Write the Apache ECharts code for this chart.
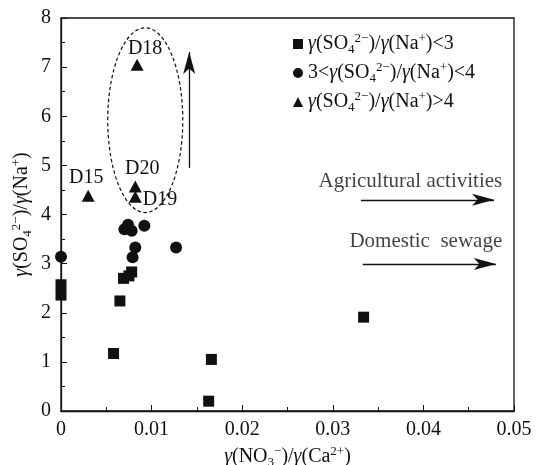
<!DOCTYPE html>
<html>
<head>
<meta charset="utf-8">
<script src="https://cdn.jsdelivr.net/npm/echarts@6/dist/echarts.min.js"></script>
<style>
  html, body { margin: 0; padding: 0; background: #fff; }
  #chart { width: 539px; height: 465px; }
</style>
</head>
<body>
<div id="chart"></div>
<script>
// Sampling points: [γ(NO3-)/γ(Ca2+), γ(SO4 2-)/γ(Na+)]
const lowRatio = [
  [0.0000, 2.57], [0.0000, 2.36], [0.0065, 2.24], [0.0069, 2.70],
  [0.0075, 2.75], [0.0078, 2.83], [0.0058, 1.17], [0.0166, 1.05],
  [0.0163, 0.20], [0.0334, 1.91]
];
const midRatio = [
  [0.0000, 3.14], [0.0070, 3.70], [0.0074, 3.79], [0.0078, 3.67],
  [0.0092, 3.77], [0.0082, 3.33], [0.0079, 3.13], [0.0127, 3.33]
];
const highRatio = [
  [0.0030, 4.38], [0.0082, 4.57], [0.0082, 4.36], [0.0084, 7.05]
];
const highNames = ['D15', 'D20', 'D19', 'D18'];

const seriesNames = ['low', 'mid', 'high'];
const xTicks = [0, 0.01, 0.02, 0.03, 0.04, 0.05];
const yTicks = [0, 1, 2, 3, 4, 5, 6, 7, 8];

// Annotations (data coordinates)
const groupEllipse = { center: [0.0093, 5.92], radius: [0.00414, 1.88] };
const upArrow = [[0.01415, 4.95], [0.01415, 7.31]];
const agriArrow = [[0.0331, 4.30], [0.0478, 4.30]];
const sewageArrow = [[0.0333, 2.99], [0.0480, 2.99]];
const agriText = { pos: [0.0487, 4.68], text: 'Agricultural activities' };
const sewageText = { pos: [0.0487, 3.45], text: 'Domestic  sewage' };

const FONT = 'Liberation Serif';
const INK = '#111';
const FS = 20;

const rich = {
  i: { fontStyle: 'italic', fontFamily: FONT, fontSize: FS, color: INK, lineHeight: 24 },
  n: { fontFamily: FONT, fontSize: FS, color: INK, lineHeight: 24 },
  sub: { fontFamily: FONT, fontSize: 13, color: INK, verticalAlign: 'bottom', lineHeight: 24 },
  sup: { fontFamily: FONT, fontSize: 13, color: INK, verticalAlign: 'top', lineHeight: 24 }
};
const so4 = '{i|γ}{n|(SO}{sub|4}{sup|2−}{n|)/}{i|γ}{n|(Na}{sup|+}{n|)}';
const legendText = {
  low: so4 + '{n|<3}',
  mid: '{n|3<}' + so4 + '{n|<4}',
  high: so4 + '{n|>4}'
};

const chart = echarts.init(document.getElementById('chart'), null, { renderer: 'canvas' });

function arrowLine(pts) {
  return {
    silent: true,
    symbol: ['none', 'arrow'],
    symbolSize: [9, 22],
    lineStyle: { color: INK, width: 1.3, type: 'solid' },
    label: { show: false },
    data: [[{ coord: pts[0] }, { coord: pts[1] }]]
  };
}

const labelPlace = {
  D15: { position: 'top', offset: [-2, 3] },
  D20: { position: 'top', offset: [7, 3] },
  D19: { position: 'right', offset: [-4, 3] },
  D18: { position: 'top', offset: [8, 5] }
};

const option = {
  animation: false,
  backgroundColor: '#fff',
  grid: {
    left: 61, right: 25, top: 18, bottom: 54,
    containLabel: false, outerBoundsMode: 'none',
    show: true, borderColor: INK, borderWidth: 1.3
  },
  legend: {
    orient: 'vertical',
    left: 288,
    top: 27,
    itemGap: 5,
    itemWidth: 10,
    itemHeight: 10,
    data: seriesNames,
    formatter: name => legendText[name],
    textStyle: { rich: rich, fontFamily: FONT, fontSize: FS, color: INK }
  },
  xAxis: {
    type: 'value',
    min: xTicks[0],
    max: xTicks[xTicks.length - 1],
    interval: 0.01,
    name: '{i|γ}{n|(NO}{sub|3}{sup|−}{n|)/}{i|γ}{n|(Ca}{sup|2+}{n|)}',
    nameLocation: 'middle',
    nameGap: 34,
    nameMoveOverlap: false,
    nameTextStyle: { rich: rich },
    axisLine: { show: true, lineStyle: { color: INK, width: 1.3 } },
    axisTick: { show: true, inside: true, length: 6, lineStyle: { color: INK } },
    minorTick: { show: true, splitNumber: 2, length: 4, lineStyle: { color: INK } },
    splitLine: { show: false },
    axisLabel: {
      fontFamily: FONT, fontSize: FS, color: INK, margin: 9,
      formatter: v => (v === 0 ? '0' : v.toFixed(2))
    }
  },
  yAxis: {
    type: 'value',
    min: yTicks[0],
    max: yTicks[yTicks.length - 1],
    interval: 1,
    name: so4,
    nameLocation: 'middle',
    nameRotate: 90,
    nameGap: 27,
    nameMoveOverlap: false,
    nameTextStyle: { rich: rich },
    axisLine: { show: true, lineStyle: { color: INK, width: 1.3 } },
    axisTick: { show: true, inside: true, length: 6, lineStyle: { color: INK } },
    minorTick: { show: true, splitNumber: 2, length: 4, lineStyle: { color: INK } },
    splitLine: { show: false },
    axisLabel: { fontFamily: FONT, fontSize: FS, color: INK, margin: 10 }
  },
  series: [
    {
      name: 'low', type: 'scatter', symbol: 'rect', symbolSize: 11,
      itemStyle: { color: INK, opacity: 1 }, data: lowRatio
    },
    {
      name: 'mid', type: 'scatter', symbol: 'circle', symbolSize: 12,
      itemStyle: { color: INK, opacity: 1 }, data: midRatio
    },
    {
      name: 'high', type: 'scatter', symbol: 'triangle', symbolSize: [13, 12],
      itemStyle: { color: INK, opacity: 1 },
      data: highRatio.map((p, k) => ({
        value: p,
        name: highNames[k],
        label: Object.assign({
          show: true, formatter: '{b}',
          fontFamily: FONT, fontSize: FS, color: INK
        }, labelPlace[highNames[k]])
      }))
    },
    {
      // dashed grouping ellipse
      type: 'custom',
      silent: true,
      data: [[groupEllipse.center[0], groupEllipse.center[1]]],
      renderItem: function (params, api) {
        const c = api.coord([api.value(0), api.value(1)]);
        const s = api.size([groupEllipse.radius[0], groupEllipse.radius[1]]);
        return {
          type: 'ellipse',
          shape: { cx: c[0], cy: c[1], rx: s[0], ry: s[1] },
          style: { fill: 'none', stroke: INK, lineWidth: 1.2, lineDash: [3.5, 2.5] }
        };
      },
      z: 1
    },
    { type: 'line', data: [], markLine: arrowLine(upArrow) },
    { type: 'line', data: [], markLine: arrowLine(agriArrow) },
    { type: 'line', data: [], markLine: arrowLine(sewageArrow) },
    {
      type: 'scatter', silent: true, symbolSize: 0,
      data: [agriText, sewageText].map(t => ({
        value: t.pos, name: t.text,
        label: {
          show: true, formatter: '{b}', position: 'inside', align: 'right',
          fontFamily: FONT, fontSize: 21, color: INK
        }
      }))
    }
  ]
};

chart.setOption(option);
</script>
</body>
</html>
